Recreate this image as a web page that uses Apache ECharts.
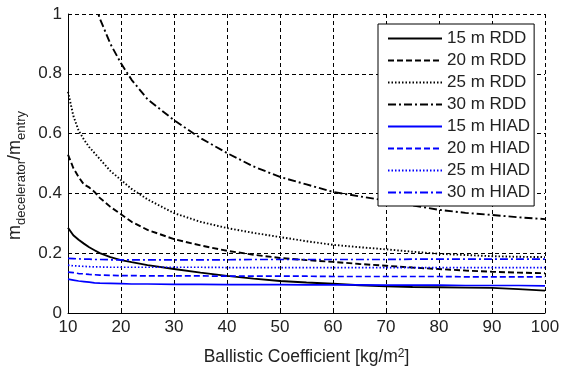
<!DOCTYPE html>
<html><head><meta charset="utf-8">
<script src="https://cdn.jsdelivr.net/npm/echarts@6/dist/echarts.min.js"></script>
<style>html,body{margin:0;padding:0;background:#fff}#c{width:561px;height:367px}</style>
</head><body><div id="c"></div>
<script>
const xValues = [10,11,12,13,14,15,16,18,20,22,25,30,35,40,45,50,55,60,65,70,75,80,85,90,95,100];
const rdd15 = [0.285,0.26,0.245,0.232,0.22,0.21,0.2,0.187,0.177,0.17,0.16,0.147,0.135,0.124,0.115,0.107,0.102,0.098,0.093,0.089,0.087,0.086,0.085,0.084,0.08,0.075];
const rdd20 = [0.53,0.485,0.455,0.43,0.42,0.405,0.385,0.355,0.33,0.305,0.278,0.247,0.226,0.208,0.195,0.184,0.177,0.171,0.164,0.158,0.152,0.147,0.142,0.138,0.135,0.133];
const rdd25 = [0.74,0.66,0.61,0.58,0.555,0.535,0.515,0.475,0.445,0.415,0.38,0.334,0.305,0.284,0.268,0.254,0.24,0.228,0.22,0.213,0.205,0.198,0.194,0.19,0.188,0.187];
const rdd30 = [1.45,1.35,1.25,1.17,1.10,1.04,0.985,0.9,0.835,0.78,0.715,0.645,0.585,0.535,0.49,0.455,0.43,0.405,0.39,0.376,0.36,0.345,0.335,0.328,0.32,0.314];
const hiad15 = [0.113,0.11,0.107,0.105,0.103,0.101,0.1,0.099,0.098,0.097,0.097,0.096,0.096,0.095,0.095,0.095,0.094,0.094,0.094,0.093,0.093,0.093,0.092,0.092,0.092,0.091];
const hiad20 = [0.137,0.135,0.132,0.131,0.129,0.128,0.127,0.126,0.125,0.125,0.124,0.124,0.124,0.123,0.123,0.123,0.123,0.122,0.122,0.122,0.122,0.122,0.121,0.121,0.121,0.121];
const hiad25 = [0.16,0.158,0.157,0.156,0.155,0.154,0.154,0.153,0.153,0.153,0.153,0.153,0.153,0.152,0.152,0.152,0.152,0.152,0.152,0.152,0.152,0.152,0.152,0.152,0.152,0.152];
const hiad30 = [0.183,0.182,0.181,0.18,0.18,0.179,0.179,0.178,0.178,0.178,0.178,0.178,0.178,0.178,0.179,0.179,0.179,0.179,0.179,0.179,0.18,0.18,0.18,0.18,0.18,0.18];
const seriesNames = ['15 m RDD','20 m RDD','25 m RDD','30 m RDD','15 m HIAD','20 m HIAD','25 m HIAD','30 m HIAD'];
const seriesData = [rdd15, rdd20, rdd25, rdd30, hiad15, hiad20, hiad25, hiad30];

const FONT = 'Arial, "Liberation Sans", sans-serif';
const TXT = '#222';
const dashes = ['solid', [6,3], [1.5,2], [8,3,2,3]];
const series = seriesData.map((vals, i) => ({
  name: seriesNames[i],
  type: 'line',
  data: vals.map((v, j) => [xValues[j], v]),
  symbol: 'none',
  showSymbol: false,
  clip: true,
  lineStyle: { color: i < 4 ? '#000' : '#0000ff', width: i < 4 ? 1.9 : 1.7, type: dashes[i % 4] },
  itemStyle: { color: i < 4 ? '#000' : '#0000ff' },
  z: 3
}));

const chart = echarts.init(document.getElementById('c'), null, { renderer: 'canvas' });
chart.setOption({
  animation: false,
  backgroundColor: '#fff',
  textStyle: { fontFamily: FONT },
  grid: { left: 68, right: 16, top: 14, bottom: 54, containLabel: false, outerBoundsMode: 'none' },
  xAxis: {
    type: 'value', min: 10, max: 100, interval: 10,
    name: '{a|Ballistic Coefficient [kg/m}{sup|2}{a|]}', nameLocation: 'middle', nameGap: 35,
    nameTextStyle: {
      color: TXT, fontFamily: FONT,
      rich: {
        a: { fontSize: 17.5, color: TXT, fontFamily: FONT, verticalAlign: 'bottom' },
        sup: { fontSize: 12, color: TXT, fontFamily: FONT, verticalAlign: 'top' }
      }
    },
    axisLine: { lineStyle: { color: '#000', width: 1 } },
    axisTick: { inside: true, length: 4, lineStyle: { color: '#000' } },
    axisLabel: { fontSize: 17, color: TXT, margin: 6, fontFamily: FONT },
    splitLine: { show: true, lineStyle: { color: '#000', width: 1, type: [4,3] } }
  },
  yAxis: {
    type: 'value', min: 0, max: 1, interval: 0.2,
    name: '{m|m}{s|decelerator}{m|/m}{s|entry}', nameLocation: 'middle', nameGap: 40,
    nameTextStyle: {
      color: TXT, fontFamily: FONT, padding: [0, 24, 0, 0],
      rich: {
        m: { fontSize: 18, color: TXT, fontFamily: FONT, verticalAlign: 'top' },
        s: { fontSize: 13, color: TXT, fontFamily: FONT, verticalAlign: 'top', padding: [8, 0, 0, 0] }
      }
    },
    axisLine: { show: true, lineStyle: { color: '#000', width: 1 } },
    axisTick: { show: true, inside: true, length: 4, lineStyle: { color: '#000' } },
    axisLabel: { fontSize: 17, color: TXT, margin: 6, fontFamily: FONT },
    splitLine: { show: true, lineStyle: { color: '#000', width: 1, type: [4,3] } }
  },
  legend: {
    orient: 'vertical', left: 378, top: 24,
    data: seriesNames,
    backgroundColor: '#fff', borderColor: '#000', borderWidth: 1,
    padding: [6, 4, 5, 9],
    itemWidth: 54, itemHeight: 14, itemGap: 5,
    itemStyle: { opacity: 0 },
    textStyle: { fontSize: 17, color: TXT, fontFamily: FONT, lineHeight: 16 },
    selectedMode: false
  },
  series: series
});
</script></body></html>
